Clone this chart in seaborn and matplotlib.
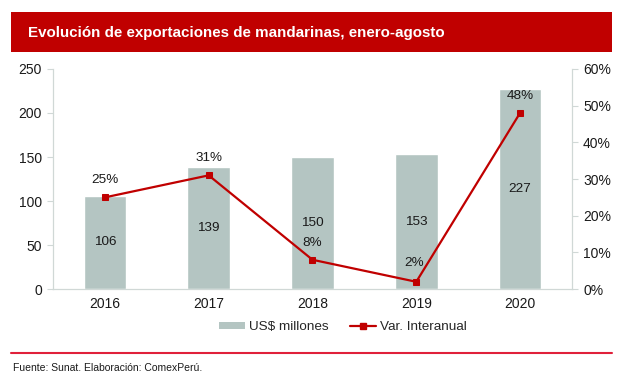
import numpy as np
import pandas as pd
import matplotlib
matplotlib.use("Agg")
import matplotlib.pyplot as plt
import seaborn as sns
from matplotlib.patches import Patch, Rectangle
from matplotlib.lines import Line2D

# datos
years = ["2016", "2017", "2018", "2019", "2020"]
usd_millones = [106, 139, 150, 153, 227]
var_interanual = [25, 31, 8, 2, 48]   # en %

bar_color = "#b4c5c2"
red = "#c00000"
spine_gray = "#d0d8d6"

sns.set_style("white")
plt.rcParams["font.family"] = ["Liberation Sans", "DejaVu Sans"]

df = pd.DataFrame({"year": years, "usd": usd_millones, "var": var_interanual})

fig = plt.figure(figsize=(6.29, 3.85), dpi=100)
ax = fig.add_axes([0.0843, 0.249, 0.825, 0.572])

sns.barplot(data=df, x="year", y="usd", color=bar_color, width=0.41,
            saturation=1, ax=ax)
ax.set_ylim(0, 250)
ax.set_yticks(range(0, 251, 50))
ax.set_xlabel("")
ax.set_ylabel("")
ax.set_xlim(-0.5, 4.5)

# etiquetas de barras
for i, v in enumerate(usd_millones):
    ax.text(i, v / 2, str(v), ha="center", va="center", fontsize=9.7, color="#1a1a1a")

ax2 = ax.twinx()
sns.lineplot(x=np.arange(len(years)), y=var_interanual, color=red, marker="s",
             markersize=5, markeredgecolor=red, linewidth=1.6, ax=ax2)
ax2.set_ylim(0, 60)
ax2.set_yticks(range(0, 61, 10))
ax2.set_yticklabels([f"{t}%" for t in range(0, 61, 10)])
ax2.set_xlim(-0.5, 4.5)

# etiquetas de porcentaje
offsets = [(0, 3.0), (0, 3.0), (0, 3.0), (-0.02, 3.5), (0, 3.0)]
for i, v in enumerate(var_interanual):
    dx, dy = offsets[i]
    ax2.text(i + dx, v + dy, f"{v}%", ha="center", va="bottom", fontsize=9.7,
             color="#1a1a1a")

for a in (ax, ax2):
    a.spines["top"].set_visible(False)
    a.spines["left"].set_color(spine_gray)
    a.spines["right"].set_color(spine_gray)
    a.spines["bottom"].set_color(spine_gray)
    a.tick_params(axis="y", length=4, color=spine_gray, labelsize=10, pad=4,
                  labelcolor="#1a1a1a")
    a.tick_params(axis="x", length=0, labelsize=10, pad=6, labelcolor="#1a1a1a")
    a.grid(False)
ax.tick_params(axis="y", left=True)
ax2.tick_params(axis="y", right=True)

# barra de titulo
fig.patches.append(Rectangle((11 / 629, 1 - 52 / 385), 601 / 629, 40 / 385,
                             transform=fig.transFigure, facecolor=red,
                             edgecolor="none"))
fig.text(28 / 629, 1 - 33 / 385, "Evolución de exportaciones de mandarinas, enero-agosto",
         color="white", fontsize=10.9, fontweight="bold", va="center", ha="left")

# leyenda
handles = [Patch(facecolor=bar_color, edgecolor="none"),
           Line2D([0], [0], color=red, marker="s", markersize=5, linewidth=1.6)]
fig.legend(handles, ["US$ millones", "Var. Interanual"], loc="center",
           bbox_to_anchor=(343 / 629, 1 - 327 / 385), ncol=2, frameon=False,
           fontsize=9.7, handlelength=1.9, handleheight=0.45, columnspacing=1.6,
           handletextpad=0.3)

# linea inferior y fuente
fig.add_artist(Line2D([11 / 629, 612 / 629], [1 - 353 / 385, 1 - 353 / 385],
                      transform=fig.transFigure, color="#e0203a", linewidth=1.5))
fig.text(13 / 629, 1 - 368 / 385, "Fuente: Sunat. Elaboración: ComexPerú.",
         fontsize=7.5, va="center", ha="left", color="#1a1a1a")

fig.savefig("out.png", dpi=100)
